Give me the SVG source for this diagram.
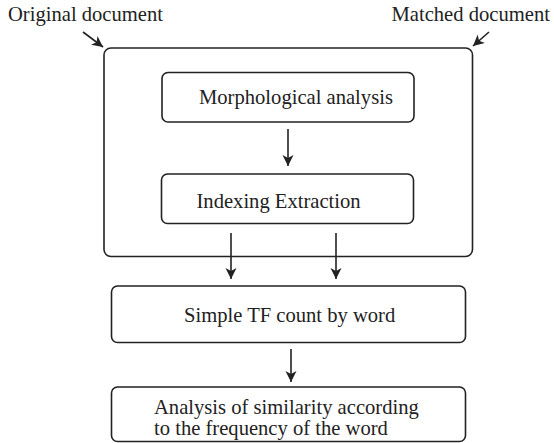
<svg xmlns="http://www.w3.org/2000/svg" width="554" height="443" viewBox="0 0 554 443">
<style>
.box{fill:#fff;stroke:#222;stroke-width:1.6}
.t{font-family:"Liberation Serif","DejaVu Serif",serif;font-size:20.6px;fill:#222}
.c{stroke:#222;stroke-width:1.6;fill:none}
</style>
<defs>
<marker id="ah" markerUnits="userSpaceOnUse" markerWidth="12" markerHeight="12" viewBox="0 0 12 12" refX="11" refY="6" orient="auto">
<path d="M0,0.5 L11,6 L0,11.5 L3,6 z" fill="#222"/>
</marker>
</defs>
<rect width="554" height="443" fill="#fff"/>
<g id="labels">
<text class="t" x="8" y="20.5">Original document</text>
<text class="t" x="391.5" y="20.5">Matched document</text>
</g>
<g id="container">
<rect class="box" x="104" y="48" width="368.5" height="208.5" rx="7"/>
</g>
<g id="morph">
<rect class="box" x="162" y="72.5" width="252" height="49.5" rx="6"/>
<text class="t" x="199" y="104">Morphological analysis</text>
</g>
<g id="index">
<rect class="box" x="161.5" y="174" width="252" height="49.5" rx="6"/>
<text class="t" x="196.5" y="207.5">Indexing Extraction</text>
</g>
<g id="tf">
<rect class="box" x="111.5" y="286" width="354" height="56.5" rx="6"/>
<text class="t" x="184" y="322">Simple TF count by word</text>
</g>
<g id="similarity">
<rect class="box" x="111.5" y="387" width="354" height="54.5" rx="6"/>
<text class="t" x="154" y="414">Analysis of similarity according</text>
<text class="t" x="154" y="435">to the frequency of the word</text>
</g>
<g id="connectors">
<line class="c" x1="83" y1="32" x2="103" y2="47" marker-end="url(#ah)"/>
<line class="c" x1="489" y1="32" x2="473" y2="46" marker-end="url(#ah)"/>
<line class="c" x1="288" y1="129" x2="288" y2="166" marker-end="url(#ah)"/>
<line class="c" x1="231" y1="233" x2="231" y2="279" marker-end="url(#ah)"/>
<line class="c" x1="336" y1="233" x2="336" y2="279" marker-end="url(#ah)"/>
<line class="c" x1="291" y1="349" x2="291" y2="382" marker-end="url(#ah)"/>
</g>
</svg>
